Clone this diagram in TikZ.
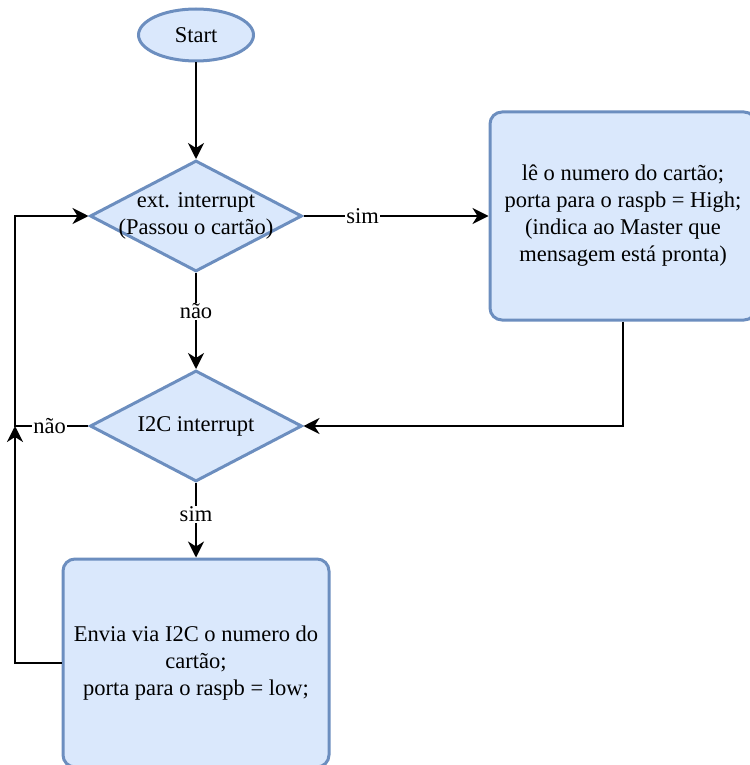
\documentclass[tikz,border=0pt]{standalone}
\usepackage{fontspec}
\setmainfont{Liberation Serif}
\usetikzlibrary{shapes.geometric, arrows.meta, positioning}
\definecolor{boxfill}{HTML}{DAE8FC}
\definecolor{boxline}{HTML}{6C8EBF}

\begin{document}
\begin{tikzpicture}
        [
            x=1pt, y=-1pt,
            font=\fontsize{22.5}{27}\selectfont,
            terminal/.style={ellipse, draw=boxline, fill=boxfill, line width=3pt,
                             minimum width=115pt, minimum height=52pt, inner sep=0pt},
            decision/.style={diamond, draw=boxline, fill=boxfill, line width=3pt,
                             minimum width=212pt, minimum height=111pt, inner sep=0pt,
                             label={[align=center]center:#1}},
            process/.style={rectangle, rounded corners=12pt, draw=boxline, fill=boxfill,
                            line width=3pt, minimum width=266pt, minimum height=208pt,
                            align=center},
            flow/.style={-{Stealth[length=16pt, width=16pt, inset=5pt]}, line width=1.9pt},
            lbl/.style={fill=white, inner sep=1pt}
        ]
        \useasboundingbox (0,0) rectangle (749,765);
        \node (start) [terminal] at (196,35) {Start};
        \node (int) [decision={ext. interrupt\\(Passou o cartão)}] at (196,216) {};
        \node (i2c) [decision={I2C interrupt}] at (196,426) {};
        \node (le) [process] at (623,216) {lê o numero do cartão;\\porta para o raspb = High;\\(indica ao Master que\\mensagem está pronta)};
        \node (envia) [process] at (196,663) {Envia via I2C o numero do\\cartão;\\porta para o raspb = low;};
        \coordinate (loop) at (15,426);
        \foreach \i/\j in {start/int}
            \draw [flow] (\i) -- (\j);
        \draw [flow] (int) -- node[lbl, pos=0.32] {sim} (le);
        \draw [flow] (int) -- node[lbl, pos=0.4] {não} (i2c);
        \draw [flow] (i2c) -- node[lbl, pos=0.42] {sim} (envia);
        \draw [flow] (le) |- (i2c);
        \draw [flow] (i2c) -- node[lbl, pos=0.53] {não} (loop) |- (int);
        \draw [flow] (envia) -| (loop);
    \end{tikzpicture}
\end{document}
